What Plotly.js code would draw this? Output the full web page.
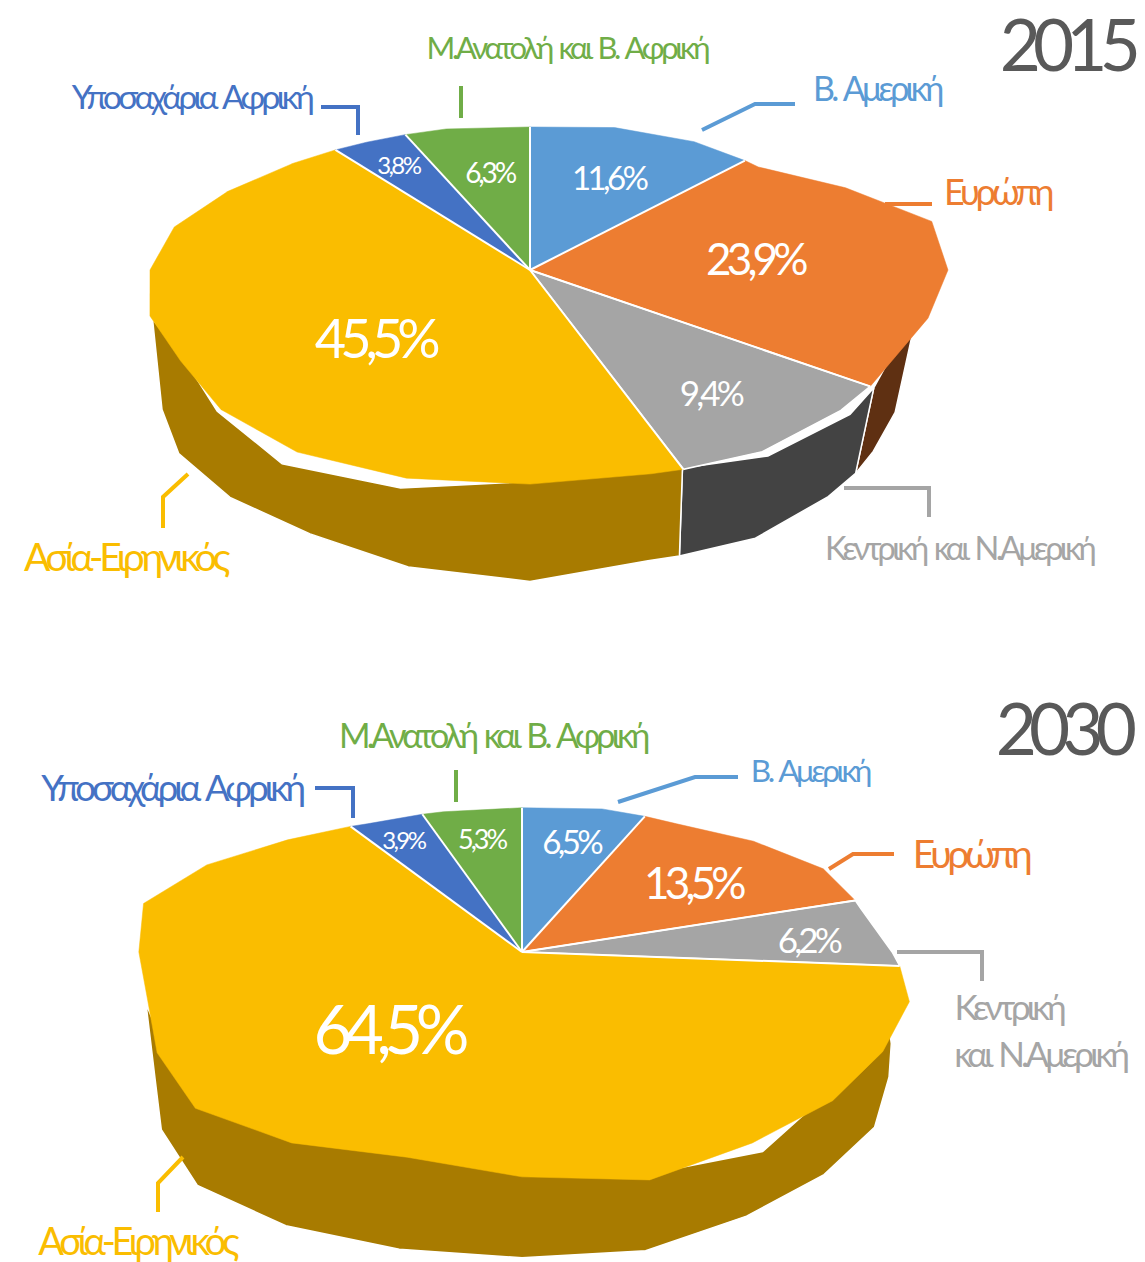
<!DOCTYPE html>
<html><head><meta charset="utf-8">
<script src="https://cdn.plot.ly/plotly-3.0.1.min.js"></script>
<style>
html,body{margin:0;padding:0;background:#fff}
.annotation text{letter-spacing:-0.11em;word-spacing:.1em}
</style></head><body><div id="chart" style="width:1145px;height:1262px"></div>
<script>
const regions = ['Β. Αμερική','Ευρώπη','Κεντρική και Ν.Αμερική','Ασία-Ειρηνικός','Υποσαχάρια Αφρική','Μ.Ανατολή και Β. Αφρική'];
const values2015 = [11.6,23.9,9.4,45.5,3.8,6.3];
const values2030 = [6.5,13.5,6.2,64.5,3.9,5.3];
const years = ['2015','2030'];

const colors = ['#5B9BD5','#ED7D31','#A5A5A5','#FABD00','#4472C4','#70AD47'];
const wallColors = ['#35608A','#5F3012','#434343','#A87B00','#2A4679','#42692A'];
const FONT = 'Lato, "Open Sans", sans-serif';

// perspective pie geometry (axis units = screen pixels); outline radius tables are sampled every 15 degrees
const geo2015 = {cx:530,cy:270,R:380,Ry:171.5,k:0.199,
  rim:[1,1.03,1.015,.965,1.06,1.16,1.10,1.027,.985,.995,1.01,.995,1,1.012,1.012,.99,.96,.983,1,1.02,1.01,1.005,1.01,1.018,1],
  wallOut:{dy:92,rim:[1,1,1,1,1,1,1,.95,.945,.96,.985,.975,1.02,1,.965,.965,.965,.954,1,1,1,1,1,1,1]},
  wallIn:{dy:0,rim:[1,1,1,1,1,1,1,1,.98,1.02,1.03,.98,.99,1.05,1.065,1,.95,.98,1,1,1,1,1,1,1]},
  wall:[107,254]};
const geo2030 = {cx:522,cy:952,R:372,Ry:178,k:0.234,
  rim:[1,1.025,1,1.03,1.05,1,.995,1.012,.99,.988,.99,1.02,.975,.94,.99,1.03,1,.98,1.03,1.125,1.105,1.045,1,1,1],
  wallOut:{dy:78,rim:[1,1,1,1,1,1,.985,.962,.97,.965,.97,.995,.985,.99,1.01,1.025,.99,.96,1,1,1,1,1,1,1]},
  wallIn:{dy:0,rim:[1,1,1,1,1,1,.95,.95,.95,.965,1.025,1,.97,.93,.97,1,.98,.985,1,1,1,1,1,1,1]},
  wall:[94.4,254]};

const labelPos2015 = [[608,177],[755,258],[710,392],[375,337],[398,164],[489,172]];
const labelPos2030 = [[571,841],[693,882],[808,939],[388,1028],[403,839],[481,838]];
const labelSize2015 = [33,44,35,54,24,28];
const labelSize2030 = [33,44,35,67,24,27];
const nameAnn = [
 ['Β. Αμερική',877,87,34,'#5B9BD5'],['Ευρώπη',997,191,36,'#ED7D31'],['Κεντρική και Ν.Αμερική',959,547,32.5,'#A5A5A5'],
 ['Ασία-Ειρηνικός',125,556,39,'#FABD00'],['Υποσαχάρια Αφρική',191,96,33.5,'#4472C4'],['Μ.Ανατολή και Β. Αφρική',567,47,31,'#70AD47'],
 ['Β. Αμερική',810,770,31.5,'#5B9BD5'],['Ευρώπη',970,853,39,'#ED7D31'],['Κεντρική',1008,1006,35,'#A5A5A5'],['και Ν.Αμερική',1040,1053,35,'#A5A5A5'],
 ['Ασία-Ειρηνικός',137,1240,38,'#FABD00'],['Υποσαχάρια Αφρική',171,787,36.5,'#4472C4'],['Μ.Ανατολή και Β. Αφρική',492,734,34,'#70AD47']];
const leaders = [
 [4,[[321,107],[358,107],[358,135]]],[5,[[461,86],[461,118]]],[0,[[702,130],[755,104],[795,104]]],
 [1,[[885,204],[932,204]]],[2,[[844,488],[929,488],[929,517]]],[3,[[188,474],[163,497],[163,528]]],
 [4,[[315,788],[353,788],[353,818]]],[5,[[456,770],[456,802]]],[0,[[618,802],[695,777],[738,777]]],
 [1,[[829,869],[853,854],[894,854]]],[2,[[897,952],[982,952],[982,981]]],[3,[[183,1157],[158,1183],[158,1212]]]];

const STEP=15;
function rimAt(tab,deg){const d=((deg%360)+360)%360,i=Math.min(Math.floor(d/STEP),tab.length-2),f=d/STEP-i;return tab[i]*(1-f)+tab[i+1]*f;}
function proj(g,deg,tab,dy){
  const t=deg*Math.PI/180,r=rimAt(tab,deg),q=r*Math.cos(t),p=r*Math.sin(t),w=1+g.k*q;
  return [g.cx+g.R*p/w,g.cy-g.Ry*q/w+(dy||0)];
}
function angles(a,b){const out=[a];for(let d=Math.ceil((a+.001)/STEP)*STEP;d<b;d+=STEP)out.push(d);out.push(b);return out;}
function poly(pts,fill,line,lw){return {type:'scatter',mode:'lines',x:pts.map(p=>p[0]),y:pts.map(p=>p[1]),fill:fill?'toself':'none',fillcolor:fill||undefined,
  line:{color:line||fill,width:lw},hoverinfo:'skip',showlegend:false};}

function pieTraces(values,g){
  const total=values.reduce((a,b)=>a+b,0);let acc=0;const walls=[],tops=[],spokes=[];
  values.forEach((v,i)=>{
    const a=acc/total*360,b=(acc+v)/total*360;acc+=v;
    const wa=Math.max(a,g.wall[0]),wb=Math.min(b,g.wall[1]);
    if(wb>wa){
      const ang=angles(wa,wb);
      const inn=ang.map(d=>proj(g,d,g.wallIn.rim,g.wallIn.dy)),out=ang.map(d=>proj(g,d,g.wallOut.rim,g.wallOut.dy)).reverse();
      const pts=inn.concat(out);pts.push(pts[0]);
      walls.push(poly(pts,wallColors[i],'#FFFFFF',1.5));
    }
    const c=[g.cx,g.cy],white=i===2;
    tops.push(poly([c].concat(angles(a,b).map(d=>proj(g,d,g.rim))).concat([c]),colors[i],white?'#FFFFFF':colors[i],white?1.5:0.5));
    spokes.push(poly([c,proj(g,b,g.rim)],null,'#FFFFFF',2));
  });
  return walls.concat(tops,spokes);
}
const data=pieTraces(values2015,geo2015).concat(pieTraces(values2030,geo2030));

const ann=[];
function addPct(vals,pos,size){vals.forEach((v,i)=>ann.push({x:pos[i][0],y:pos[i][1],text:v.toFixed(1).replace('.',',')+'%',showarrow:false,
  font:{family:FONT,size:size[i],color:'#FFFFFF'},xref:'x',yref:'y'}));}
addPct(values2015,labelPos2015,labelSize2015);addPct(values2030,labelPos2030,labelSize2030);
nameAnn.forEach(n=>ann.push({x:n[1],y:n[2],text:n[0],showarrow:false,xref:'x',yref:'y',
  font:{family:FONT,size:n[3],color:n[4]}}));
ann.push({x:1066,y:43,text:years[0],showarrow:false,xref:'x',yref:'y',font:{family:FONT,size:71,color:'#595959'}});
ann.push({x:1062,y:727,text:years[1],showarrow:false,xref:'x',yref:'y',font:{family:FONT,size:71,color:'#595959'}});

const shapes=leaders.map(l=>({type:'path',xref:'x',yref:'y',layer:'above',
  path:l[1].map((p,i)=>(i?'L':'M')+p[0]+' '+p[1]).join(' '),line:{color:colors[l[0]],width:4}}));

Plotly.newPlot('chart',data,{width:1145,height:1262,margin:{l:0,r:0,t:0,b:0},paper_bgcolor:'#fff',plot_bgcolor:'#fff',showlegend:false,
  xaxis:{range:[0,1145],visible:false,fixedrange:true},yaxis:{range:[1262,0],visible:false,fixedrange:true},annotations:ann,shapes},{staticPlot:true,displayModeBar:false});
</script></body></html>
